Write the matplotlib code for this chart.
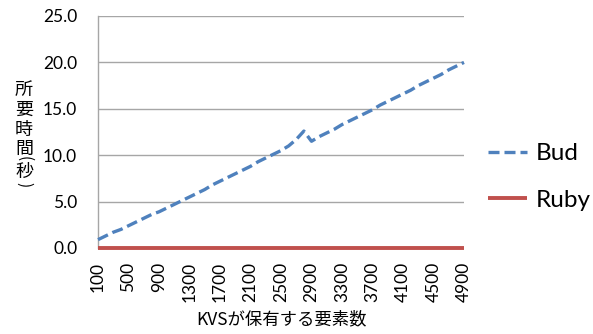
import matplotlib
matplotlib.use("Agg")
import matplotlib.pyplot as plt

# Number of elements held by the KVS (category axis)
element_counts = list(range(100, 5000, 100))

# Elapsed time in seconds
bud_seconds = [0.9, 1.3, 1.7, 2.0, 2.4, 2.8, 3.2, 3.6, 3.9, 4.3,
               4.7, 5.1, 5.5, 5.9, 6.3, 6.8, 7.2, 7.6, 8.0, 8.4,
               8.8, 9.3, 9.7, 10.1, 10.5, 11.0, 11.7, 12.6, 11.5, 12.0,
               12.4, 12.8, 13.3, 13.7, 14.1, 14.5, 14.9, 15.4, 15.8, 16.2,
               16.6, 17.0, 17.5, 17.9, 18.3, 18.7, 19.2, 19.6, 20.0]
ruby_seconds = [0.0] * len(element_counts)

y_ticks = [0, 5, 10, 15, 20, 25]
x_label_step = 4

series_names = ["Bud", "Ruby"]
x_title = "KVSが保有する要素数"
y_title = "所要時間(秒)"

BLUE = "#4f81bd"
RED = "#c0504d"
GRID = "#a6a6a6"
CJK = ["Noto Sans CJK JP", "DejaVu Sans"]

plt.rcParams["font.family"] = ["Lato", "Noto Sans CJK JP", "DejaVu Sans"]

W, H = 593, 334
fig = plt.figure(figsize=(W / 100, H / 100), dpi=100)
ax = fig.add_axes([98 / W, 1 - 248 / H, (464 - 98) / W, (248 - 16) / H])

xs = list(range(len(element_counts)))
ax.plot(xs, ruby_seconds, color=RED, lw=2.8, solid_capstyle="butt",
        label=series_names[1], zorder=3, clip_on=False)
ax.plot(xs, bud_seconds, color=BLUE, lw=2.4, dashes=(3.3, 1.5),
        dash_capstyle="butt", label=series_names[0], zorder=4, clip_on=False)

ax.set_xlim(0, len(element_counts) - 1)
ax.set_ylim(0, 25)
ax.set_yticks(y_ticks)
ax.set_yticklabels([f"{v:.1f}" for v in y_ticks])
tick_pos = xs[::x_label_step]
ax.set_xticks(tick_pos)
ax.set_xticklabels([str(element_counts[i]) for i in tick_pos], rotation=90,
                   va="top", ha="center")

ax.grid(axis="y", color=GRID, lw=1.0)
ax.set_axisbelow(True)
for side in ("top", "right", "bottom"):
    ax.spines[side].set_visible(False)
ax.spines["left"].set_color(GRID)
ax.spines["left"].set_linewidth(1.0)
ax.tick_params(axis="both", length=0, labelsize=12.5, colors="black")
ax.tick_params(axis="y", pad=15)
ax.tick_params(axis="x", pad=10)

ax.set_xlabel(x_title, fontsize=12.5, family=CJK, labelpad=6)

# Vertical stacked axis title; brackets turned to lie across the column
stack_y = [90, 110, 130, 149, 159, 171.5, 185]
for ch, ypix in zip(y_title, stack_y):
    is_bracket = ch in "()"
    fig.text(24 / W, 1 - ypix / H, ch, fontsize=11 if is_bracket else 13,
             rotation=-90 if is_bracket else 0,
             ha="center", va="center", family=CJK)

handles, labels = ax.get_legend_handles_labels()
order = [labels.index(n) for n in series_names]
fig.legend([handles[i] for i in order], [labels[i] for i in order],
           loc="center left", bbox_to_anchor=(488 / W, 1 - 177 / H),
           frameon=False, fontsize=17.5, handlelength=1.6, handletextpad=0.37,
           labelspacing=1.03, borderpad=0, borderaxespad=0)

fig.savefig("out.png", dpi=100)
